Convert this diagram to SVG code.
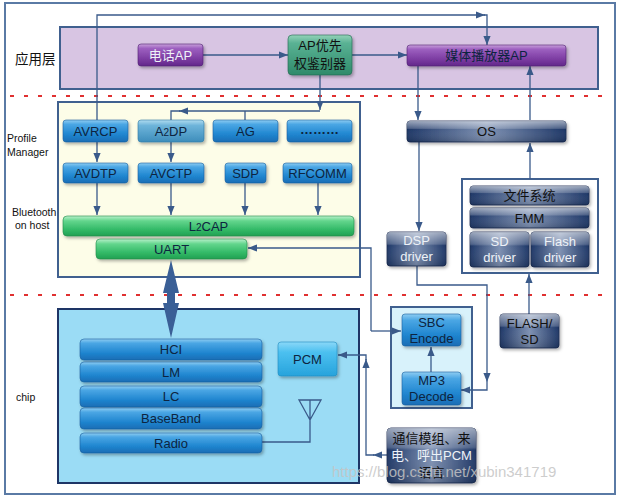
<svg xmlns="http://www.w3.org/2000/svg" width="618" height="500" viewBox="0 0 618 500">
<defs>
  <linearGradient id="gBlue" x1="0" y1="0" x2="0" y2="1">
    <stop offset="0" stop-color="#8fcdf2"/><stop offset="0.2" stop-color="#4aa6e4"/>
    <stop offset="0.65" stop-color="#2086d0"/><stop offset="1" stop-color="#1a6db5"/>
  </linearGradient>
  <linearGradient id="gTeal" x1="0" y1="0" x2="0" y2="1">
    <stop offset="0" stop-color="#b0dcf0"/><stop offset="0.25" stop-color="#6eb4da"/>
    <stop offset="1" stop-color="#3d8dbb"/>
  </linearGradient>
  <linearGradient id="gPCM" x1="0" y1="0" x2="0" y2="1">
    <stop offset="0" stop-color="#8ad8f8"/><stop offset="0.3" stop-color="#4cc0f0"/>
    <stop offset="1" stop-color="#27a3dc"/>
  </linearGradient>
  <linearGradient id="gGreen" x1="0" y1="0" x2="0" y2="1">
    <stop offset="0" stop-color="#b8f0cb"/><stop offset="0.25" stop-color="#62d58c"/>
    <stop offset="0.7" stop-color="#31b866"/><stop offset="1" stop-color="#22a052"/>
  </linearGradient>
  <linearGradient id="gGreenAP" x1="0" y1="0" x2="0" y2="1">
    <stop offset="0" stop-color="#94d3b8"/><stop offset="0.2" stop-color="#5ab294"/>
    <stop offset="1" stop-color="#2f8a6a"/>
  </linearGradient>
  <linearGradient id="gPurple" x1="0" y1="0" x2="0" y2="1">
    <stop offset="0" stop-color="#c8a0da"/><stop offset="0.2" stop-color="#9d60c0"/>
    <stop offset="0.7" stop-color="#7a3aa0"/><stop offset="1" stop-color="#62288a"/>
  </linearGradient>
  <linearGradient id="gNavy" x1="0" y1="0" x2="1" y2="0">
    <stop offset="0" stop-color="#1d3666"/><stop offset="0.5" stop-color="#7d90b2"/>
    <stop offset="1" stop-color="#1d3666"/>
  </linearGradient>
  <linearGradient id="gHi" x1="0" y1="0" x2="0" y2="1">
    <stop offset="0" stop-color="#ffffff" stop-opacity="0.55"/>
    <stop offset="0.35" stop-color="#ffffff" stop-opacity="0.2"/>
    <stop offset="0.4" stop-color="#ffffff" stop-opacity="0"/>
    <stop offset="1" stop-color="#000000" stop-opacity="0.15"/>
  </linearGradient>
  <filter id="sh" x="-10%" y="-20%" width="130%" height="160%">
    <feDropShadow dx="1.5" dy="2" stdDeviation="1.5" flood-color="#000" flood-opacity="0.3"/>
  </filter>
  <marker id="ah" viewBox="0 0 10 10" refX="10" refY="5" markerWidth="9" markerHeight="9" markerUnits="userSpaceOnUse" orient="auto-start-reverse">
    <path d="M0,1 L10,5 L0,9 z" fill="#3a5a8a"/>
  </marker>
  <style>
    .t{font-family:"Liberation Sans","Noto Sans CJK SC",sans-serif;font-size:13px;text-anchor:middle;fill:#0d2440}
    .w{fill:#eef2f8}
    .k{fill:#111}
    .lbl{font-family:"Liberation Sans","Noto Sans CJK SC",sans-serif;font-size:10.5px;fill:#111}
    .cn{fill:none;stroke:#3a5a8a;stroke-width:1.3}
    .ar{marker-end:url(#ah)}
    .blue{fill:url(#gBlue);stroke:#1a5f9e;stroke-width:0.6;filter:url(#sh)}
    .navy{fill:url(#gNavy);stroke:#15284e;stroke-width:0.8;filter:url(#sh)}
    .hi{fill:url(#gHi);stroke:none}
    .grn{fill:url(#gGreen);stroke:#1f8a48;stroke-width:0.6;filter:url(#sh)}
    .pur{fill:url(#gPurple);stroke:#4e2070;stroke-width:0.6;filter:url(#sh)}
    .dot{stroke:#e03030;stroke-width:2;stroke-dasharray:4 10;fill:none}
    .panel{stroke:#40608f;stroke-width:2}
  </style>
</defs>

<!-- background frame -->
<rect x="0" y="0" width="618" height="500" fill="#ffffff"/>
<rect id="frame" x="5" y="3" width="610" height="491" fill="#ffffff" stroke="#5a7aa5" stroke-width="2"/>

<!-- panels -->
<g id="app-layer">
  <rect x="60" y="27" width="538" height="62" fill="#d8c5e3" class="panel"/>
</g>
<g id="profile-panel">
  <rect x="58" y="102" width="302" height="175" fill="#fdfde8" class="panel"/>
</g>
<g id="chip-panel">
  <rect x="58" y="309" width="301" height="174" fill="#9bdcf5" stroke="#1e3566" stroke-width="2"/>
</g>
<g id="codec-panel">
  <rect x="391" y="307" width="81" height="101" fill="#d8f2fb" class="panel"/>
</g>
<g id="fs-panel">
  <rect x="462" y="179" width="136" height="94" fill="#ffffff" class="panel"/>
</g>

<!-- dotted separators -->
<line class="dot" x1="10" y1="96" x2="612" y2="96"/>
<line class="dot" x1="10" y1="295" x2="612" y2="295"/>

<!-- side labels -->
<g id="labels">
  <text x="15" y="64" font-family="Liberation Sans,Noto Sans CJK SC,sans-serif" font-size="13.5" fill="#111">应用层</text>
  <text x="7" y="142" class="lbl">Profile</text>
  <text x="7" y="156" class="lbl">Manager</text>
  <text x="12" y="216" class="lbl">Bluetooth</text>
  <text x="15" y="229" class="lbl">on host</text>
  <text x="16" y="401" class="lbl">chip</text>
</g>

<!-- connectors -->
<g id="connectors">
  <path class="cn ar" d="M97,120 V15 H485"/>
  <path class="cn ar" d="M484,15 H487 V45"/>
  <path class="cn ar" d="M203,55 H288"/>
  <path class="cn ar" d="M352,55 H407"/>
  <path class="cn ar" d="M320,75 V110"/>
  <path class="cn ar" d="M320,111 H179"/>
  <path class="cn" d="M180,111 H171 V120"/>
  <path class="cn" d="M245,111 V120"/>
  <path class="cn ar" d="M418,66 V120"/>
  <path class="cn ar" d="M530,120 V66"/>
  <path class="cn ar" d="M419,142 V231"/>
  <path class="cn ar" d="M530,179 V143"/>
  <path class="cn ar" d="M529,314 V274"/>
  <path class="cn ar" d="M97,142 V162"/>
  <path class="cn ar" d="M171,142 V162"/>
  <path class="cn ar" d="M97,183 V215"/>
  <path class="cn ar" d="M171,183 V215"/>
  <path class="cn ar" d="M245,183 V215"/>
  <path class="cn ar" d="M318,183 V215"/>
  <path class="cn ar" d="M371,331 V248 H248"/>
  <path class="cn ar" d="M371,331 H401"/>
  <path class="cn ar" d="M417,266 V285 H487 V382"/>
  <path class="cn ar" d="M487,382 V390 H461"/>
  <path class="cn ar" d="M431,372 V347"/>
  <path class="cn ar" d="M387,455 H373"/>
  <path class="cn ar" d="M374,455 H366 V359"/>
  <path class="cn ar" d="M366,360 V355 H338"/>
  <path class="cn" d="M299,400 H321 L310,420 Z M310,400 V442 H262"/>
  <polygon points="171,260 179,293 175,293 175,303 179,303 171,338 163,303 167,303 167,293 163,293" fill="#3a5f96"/>
</g>

<!-- application layer nodes -->
<g id="phone-ap">
  <rect class="pur" x="138" y="44" width="65" height="22" rx="3"/>
  <text class="t w" x="170.5" y="60">电话AP</text>
</g>
<g id="ap-arbiter">
  <rect x="288" y="35" width="64" height="40" rx="4" fill="url(#gGreenAP)" stroke="#226650" stroke-width="0.6" filter="url(#sh)"/>
  <text class="t k" x="320" y="50">AP优先</text>
  <text class="t k" x="320" y="68">权鉴别器</text>
</g>
<g id="media-player-ap">
  <rect class="pur" x="407" y="45" width="159" height="21" rx="3"/>
  <text class="t" x="486.5" y="60" fill="#141a3a">媒体播放器AP</text>
</g>

<!-- profile manager -->
<g id="avrcp"><rect class="blue" x="63" y="120" width="65" height="22" rx="3"/><text class="t" x="95.5" y="136">AVRCP</text></g>
<g id="a2dp"><rect x="138" y="120" width="66" height="22" rx="3" fill="url(#gTeal)" stroke="#2f7aa5" stroke-width="0.6" filter="url(#sh)"/><text class="t" x="171" y="136">A<tspan font-size="10">2</tspan>DP</text></g>
<g id="ag"><rect class="blue" x="213" y="120" width="65" height="22" rx="3"/><text class="t" x="245.5" y="136">AG</text></g>
<g id="more"><rect class="blue" x="287" y="120" width="65" height="22" rx="3"/><text class="t" x="319.5" y="134" font-weight="bold">………</text></g>
<g id="avdtp"><rect class="blue" x="63" y="163" width="65" height="20" rx="3"/><text class="t" x="95.5" y="178">AVDTP</text></g>
<g id="avctp"><rect class="blue" x="138" y="163" width="66" height="20" rx="3"/><text class="t" x="171" y="178">AVCTP</text></g>
<g id="sdp"><rect class="blue" x="225" y="163" width="41" height="20" rx="3"/><text class="t" x="245.5" y="178">SDP</text></g>
<g id="rfcomm"><rect class="blue" x="283" y="163" width="69" height="20" rx="3"/><text class="t" x="317.5" y="178">RFCOMM</text></g>
<g id="l2cap"><rect class="grn" x="63" y="216" width="291" height="20" rx="4"/><text class="t" x="208.5" y="231">L<tspan font-size="10">2</tspan>CAP</text></g>
<g id="uart"><rect class="grn" x="96" y="239" width="151" height="20" rx="4"/><text class="t" x="171.5" y="254">UART</text></g>

<!-- OS side -->
<g id="os"><rect class="navy" x="407" y="121" width="159" height="21" rx="3"/><rect class="hi" x="407" y="121" width="159" height="21" rx="3"/><text class="t k" x="486.5" y="136">OS</text></g>
<g id="dsp-driver"><rect class="navy" x="387" y="232" width="59" height="34" rx="3"/><rect class="hi" x="387" y="232" width="59" height="34" rx="3"/><text class="t w" x="416.5" y="245">DSP</text><text class="t w" x="416.5" y="261">driver</text></g>
<g id="file-system"><rect class="navy" x="470" y="186" width="119" height="19" rx="3"/><rect class="hi" x="470" y="186" width="119" height="19" rx="3"/><text class="t k" x="529.5" y="200">文件系统</text></g>
<g id="fmm"><rect class="navy" x="470" y="208" width="119" height="20" rx="3"/><rect class="hi" x="470" y="208" width="119" height="20" rx="3"/><text class="t k" x="529.5" y="223">FMM</text></g>
<g id="sd-driver"><rect class="navy" x="470" y="232" width="59" height="35" rx="3"/><rect class="hi" x="470" y="232" width="59" height="35" rx="3"/><text class="t w" x="499.5" y="246">SD</text><text class="t w" x="499.5" y="262">driver</text></g>
<g id="flash-driver"><rect class="navy" x="531" y="232" width="58" height="35" rx="3"/><rect class="hi" x="531" y="232" width="58" height="35" rx="3"/><text class="t w" x="560" y="246">Flash</text><text class="t w" x="560" y="262">driver</text></g>
<g id="flash-sd"><rect class="navy" x="500" y="314" width="59" height="34" rx="3"/><rect class="hi" x="500" y="314" width="59" height="34" rx="3"/><text class="t k" x="529.5" y="328">FLASH/</text><text class="t k" x="529.5" y="344">SD</text></g>

<!-- codec -->
<g id="sbc-encode"><rect class="blue" x="402" y="314" width="59" height="32" rx="3"/><text class="t" x="431.5" y="327">SBC</text><text class="t" x="431.5" y="343">Encode</text></g>
<g id="mp3-decode"><rect class="blue" x="402" y="372" width="59" height="33" rx="3"/><text class="t" x="431.5" y="385">MP3</text><text class="t" x="431.5" y="401">Decode</text></g>

<!-- comms module -->
<g id="comm-module"><rect class="navy" x="387" y="428" width="89" height="55" rx="4"/><rect class="hi" x="387" y="428" width="89" height="55" rx="4"/>
  <text class="t k" x="431.5" y="443">通信模组、来</text>
  <text class="t w" x="431.5" y="460">电、呼出PCM</text>
  <text class="t k" x="431.5" y="477">语言</text>
</g>

<!-- chip -->
<g id="hci"><rect class="blue" x="80" y="339" width="182" height="21" rx="4"/><text class="t" x="171" y="354">HCI</text></g>
<g id="lm"><rect class="blue" x="80" y="362" width="182" height="20" rx="4"/><text class="t" x="171" y="377">LM</text></g>
<g id="lc"><rect class="blue" x="80" y="386" width="182" height="21" rx="4"/><text class="t" x="171" y="401">LC</text></g>
<g id="baseband"><rect class="blue" x="80" y="408" width="182" height="21" rx="4"/><text class="t" x="171" y="423">BaseBand</text></g>
<g id="radio"><rect class="blue" x="80" y="433" width="182" height="20" rx="4"/><text class="t" x="171" y="448">Radio</text></g>
<g id="pcm"><rect x="278" y="342" width="59" height="34" rx="3" fill="url(#gPCM)" stroke="#1f8cc0" stroke-width="0.6" filter="url(#sh)"/><text class="t" x="307.5" y="364">PCM</text></g>

<!-- watermark -->
<text x="332" y="477" font-family="Liberation Sans,sans-serif" font-size="15" fill="#c4c4c4" fill-opacity="0.85">https://blog.csdn.net/xubin341719</text>
</svg>
